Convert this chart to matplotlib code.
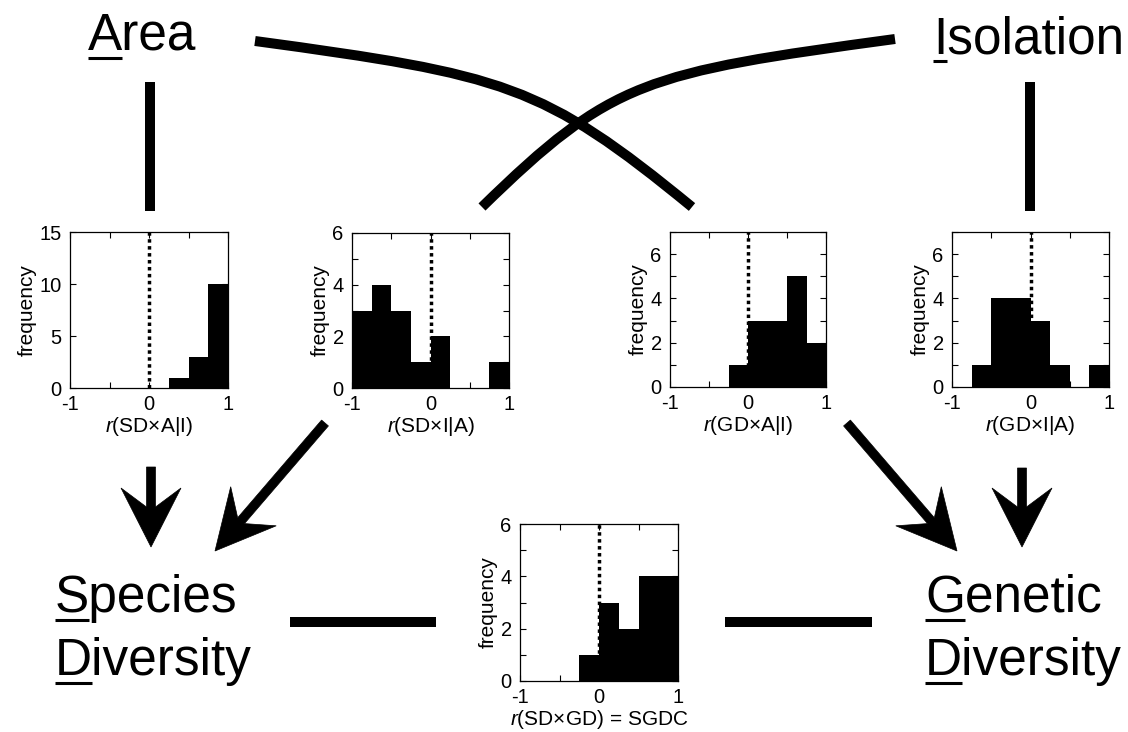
import numpy as np
import matplotlib
matplotlib.use('Agg')
import matplotlib.pyplot as plt
from matplotlib.path import Path
from matplotlib.patches import PathPatch, Polygon
from matplotlib.ticker import MultipleLocator, FuncFormatter

plt.rcParams['font.family'] = ['Liberation Sans', 'DejaVu Sans']
plt.rcParams['mathtext.fontset'] = 'custom'
plt.rcParams['mathtext.it'] = 'Liberation Sans:italic'
plt.rcParams['mathtext.rm'] = 'Liberation Sans'

###########################################################################################
###########   DATA  ######################################################################
###########################################################################################

# histogram bins: 8 bins of width 0.25 from -1 to 1
bin_edges = [-1.0, -0.75, -0.5, -0.25, 0.0, 0.25, 0.5, 0.75, 1.0]

sd_a = [0, 0, 0, 0, 0, 1, 3, 10]      # r(SD x A|I)
sd_i = [3, 4, 3, 1, 2, 0, 0, 1]       # r(SD x I|A)
gd_a = [0, 0, 0, 1, 3, 3, 5, 2]       # r(GD x A|I)
gd_i = [0, 1, 4, 4, 3, 1, 0, 1]       # r(GD x I|A)
sgdc = [0, 0, 0, 1, 3, 2, 4, 4]       # r(SD x GD)

xlabels = [r'$\it{r}$(SD×A|I)', r'$\it{r}$(SD×I|A)', r'$\it{r}$(GD×A|I)',
           r'$\it{r}$(GD×I|A)', r'$\it{r}$(SD×GD) = SGDC']
ymax = [15, 6, 7, 7, 6]

W, H = 1128, 732
fig = plt.figure(figsize=(W / 100, H / 100), dpi=100)

###########################################################################################
###########   DIAGRAM (pixel coordinates)  ##############################################
###########################################################################################

ax0 = fig.add_axes([0, 0, 1, 1])
ax0.set_xlim(0, W)
ax0.set_ylim(H, 0)
ax0.axis('off')

LW = 7.2

def bar_line(p0, p1):
	ax0.plot([p0[0], p1[0]], [p0[1], p1[1]], color='k', lw=LW, solid_capstyle='butt')

def curve(pts):
	path = Path(pts, [Path.MOVETO, Path.CURVE4, Path.CURVE4, Path.CURVE4])
	ax0.add_patch(PathPatch(path, fc='none', ec='k', lw=LW, capstyle='butt'))

def arrow(start, tip, w=9, L=59, Hw=30, n=40):
	# swept-back arrow head polygon
	s = np.array(start, float)
	t = np.array(tip, float)
	u = (t - s) / np.linalg.norm(t - s)
	v = np.array([-u[1], u[0]])
	j = t - u * n
	b = t - u * L
	pts = [s + v * w / 2, j + v * w / 2, b + v * Hw, t, b - v * Hw, j - v * w / 2, s - v * w / 2]
	ax0.add_patch(Polygon(pts, closed=True, fc='k', ec='k', lw=0.5))

bar_line((150, 82), (150, 211))
bar_line((1030, 82), (1030, 211))
bar_line((290, 622), (436, 622))
bar_line((725, 622), (872, 622))

curve([(255, 41), (505, 75), (542, 84), (692, 207)])
curve([(895, 39), (645, 73), (612, 80), (482, 207)])

arrow((151, 467), (151, 547))
arrow((325, 423), (215, 551))
arrow((847, 423), (957, 551))
arrow((1022, 468), (1022, 547))

def word(x, y, s):
	# big label with the first letter underlined
	ax0.text(x, y, s, fontsize=37, ha='left', va='baseline')
	first = ax0.text(x, y, s[0], fontsize=37, ha='left', va='baseline', alpha=0)
	fig.canvas.draw()
	bb = first.get_window_extent()
	inv = ax0.transData.inverted()
	x0 = inv.transform((bb.x0, 0))[0]
	x1 = inv.transform((bb.x1, 0))[0]
	ax0.plot([x0, x1], [y + 7.5, y + 7.5], color='k', lw=2.2, solid_capstyle='butt')

word(88, 50, 'Area')
word(933, 53, 'Isolation')
word(55, 612, 'Species')
word(55, 675, 'Diversity')
word(925, 612, 'Genetic')
word(925, 675, 'Diversity')

###########################################################################################
###########   HISTOGRAMS  ################################################################
###########################################################################################

# axes boxes in pixels: left, right, top, bottom
boxes = [(70, 228, 232, 388), (352, 509, 233, 388), (670, 826, 232, 387),
         (952, 1109, 232, 387), (520, 678, 524, 681)]
counts = [sd_a, sd_i, gd_a, gd_i, sgdc]

for (l, r, t, b), c, xl, ym in zip(boxes, counts, xlabels, ymax):
	ax = fig.add_axes([l / W, 1 - b / H, (r - l) / W, (b - t) / H])
	ax.axvline(0, color='k', ls=(0, (1, 1)), lw=2.5, zorder=1)
	ax.stairs(c, bin_edges, fill=True, color='k', zorder=2)
	ax.set_xlim(-1, 1)
	ax.set_ylim(0, ym)
	ax.xaxis.set_major_locator(MultipleLocator(1))
	ax.xaxis.set_minor_locator(MultipleLocator(0.5))
	ax.xaxis.set_major_formatter(FuncFormatter(lambda v, p: '%d' % round(v)))
	if ym == 15:
		ax.yaxis.set_major_locator(MultipleLocator(5))
	else:
		ax.yaxis.set_major_locator(MultipleLocator(2))
		ax.yaxis.set_minor_locator(MultipleLocator(1))
	ax.tick_params(which='both', direction='in', top=True, right=True, width=0.8, length=4.5)
	ax.tick_params(axis='x', which='major', labelsize=14.5, pad=5)
	ax.tick_params(axis='y', which='major', labelsize=14.5, pad=6)
	for sp in ax.spines.values():
		sp.set_linewidth(0.9)
	ax.set_ylabel('frequency', fontsize=15, labelpad=2)
	ax.set_xlabel(xl, fontsize=15, labelpad=1)

fig.savefig('out.png', dpi=100)
